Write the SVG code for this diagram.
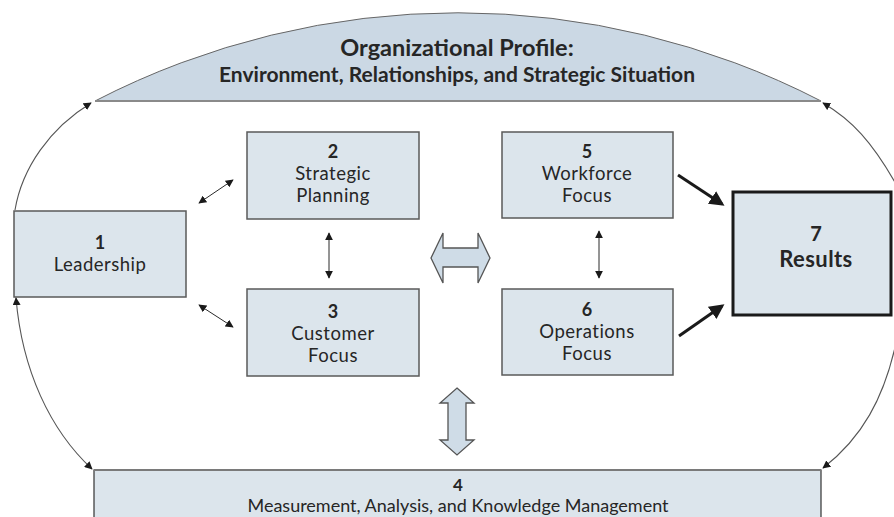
<svg xmlns="http://www.w3.org/2000/svg" width="894" height="517" viewBox="0 0 894 517">
<style>
.box{fill:#dce5ec;stroke:#5a5a5a;stroke-width:1.5}
.t{font-family:Lato,"Open Sans","DejaVu Sans",sans-serif;fill:#262626;text-anchor:middle;font-size:18.5px;letter-spacing:0.5px}
.b{font-weight:bold;font-size:18px;letter-spacing:0}
.thin{fill:none;stroke:#2a2a2a;stroke-width:1}
.arc{fill:none;stroke:#555;stroke-width:1.1}
.thick{fill:none;stroke:#1a1a1a;stroke-width:3}
.hollow{fill:#cfdce7;stroke:#555;stroke-width:1.3}
</style>
<defs>
<marker id="ah" viewBox="0 0 10 10" refX="9" refY="5" markerWidth="8" markerHeight="8" markerUnits="userSpaceOnUse" orient="auto-start-reverse">
<path d="M0,0 L10,5 L0,10 z" fill="#1a1a1a"/>
</marker>
<marker id="ahb" viewBox="0 0 10 10" refX="8" refY="5" markerWidth="15" markerHeight="15" markerUnits="userSpaceOnUse" orient="auto">
<path d="M0,0 L10,5 L0,10 z" fill="#1a1a1a"/>
</marker>
</defs>

<g id="profile">
<path d="M95,101 A791,791 0 0 1 821,101 Z" fill="#cbd8e4" stroke="#666" stroke-width="1"/>
<line x1="95" y1="101" x2="821" y2="101" stroke="#8a8a8a" stroke-width="2"/>
<text class="t" x="457" y="56" style="font-size:23.5px;font-weight:bold;letter-spacing:0">Organizational Profile:</text>
<text class="t" x="457" y="82" style="font-size:21px;font-weight:bold;letter-spacing:0">Environment, Relationships, and Strategic Situation</text>
</g>

<g id="n1">
<rect class="box" x="14" y="211" width="172" height="86"/>
<text class="t b" x="100" y="249">1</text>
<text class="t" x="100" y="271">Leadership</text>
</g>

<g id="n2">
<rect class="box" x="247" y="132" width="172" height="87"/>
<text class="t b" x="333" y="158">2</text>
<text class="t" x="333" y="180">Strategic</text>
<text class="t" x="333" y="202">Planning</text>
</g>

<g id="n3">
<rect class="box" x="247" y="289" width="172" height="87"/>
<text class="t b" x="333" y="318">3</text>
<text class="t" x="333" y="340">Customer</text>
<text class="t" x="333" y="362">Focus</text>
</g>

<g id="n5">
<rect class="box" x="502" y="132" width="171" height="86"/>
<text class="t b" x="587" y="158">5</text>
<text class="t" x="587" y="180">Workforce</text>
<text class="t" x="587" y="202">Focus</text>
</g>

<g id="n6">
<rect class="box" x="502" y="289" width="171" height="86"/>
<text class="t b" x="587" y="316">6</text>
<text class="t" x="587" y="338">Operations</text>
<text class="t" x="587" y="360">Focus</text>
</g>

<g id="n7">
<rect x="733" y="192" width="158" height="123" fill="#dce5ec" stroke="#1a1a1a" stroke-width="3"/>
<text class="t" x="816" y="241" style="font-size:20px;font-weight:bold;letter-spacing:0">7</text>
<text class="t" x="816" y="267" style="font-size:22px;font-weight:bold;letter-spacing:0.4px">Results</text>
</g>

<g id="n4">
<rect x="94" y="470" width="727" height="60" fill="#dce5ec" stroke="#333" stroke-width="1.2"/>
<line x1="94" y1="470" x2="821" y2="470" stroke="#7a7a7a" stroke-width="2"/>
<text class="t" x="458" y="491" style="font-size:17px;font-weight:bold;letter-spacing:0">4</text>
<text class="t" x="458" y="512" style="font-size:18px;letter-spacing:0">Measurement, Analysis, and Knowledge Management</text>
</g>

<g id="connectors">
<path class="arc" d="M15,210 C22,168 50,128 91,103" marker-end="url(#ah)"/>
<path class="arc" d="M16,298 C22,370 50,430 92,469" marker-start="url(#ah)" marker-end="url(#ah)"/>
<path class="arc" d="M896,184 C872,142 852,120 823,103" marker-end="url(#ah)"/>
<path class="arc" d="M896,343 C884,398 862,438 823,468" marker-end="url(#ah)"/>
<line class="thin" x1="199" y1="203" x2="233" y2="180" marker-start="url(#ah)" marker-end="url(#ah)"/>
<line class="thin" x1="199" y1="305" x2="233" y2="327" marker-start="url(#ah)" marker-end="url(#ah)"/>
<line class="thin" x1="329" y1="233" x2="329" y2="278" marker-start="url(#ah)" marker-end="url(#ah)"/>
<line class="thin" x1="599" y1="231" x2="599" y2="278" marker-start="url(#ah)" marker-end="url(#ah)"/>
<line class="thick" x1="678" y1="175" x2="722" y2="204" marker-end="url(#ahb)"/>
<line class="thick" x1="679" y1="336" x2="722" y2="306" marker-end="url(#ahb)"/>
<polygon class="hollow" points="431,258 443,233 443,248 478,248 478,233 490,258 478,283 478,267 443,267 443,283"/>
<polygon class="hollow" points="457,388 474,403 466,403 466,440 474,440 457,455 440,440 448,440 448,403 440,403"/>
</g>
</svg>
